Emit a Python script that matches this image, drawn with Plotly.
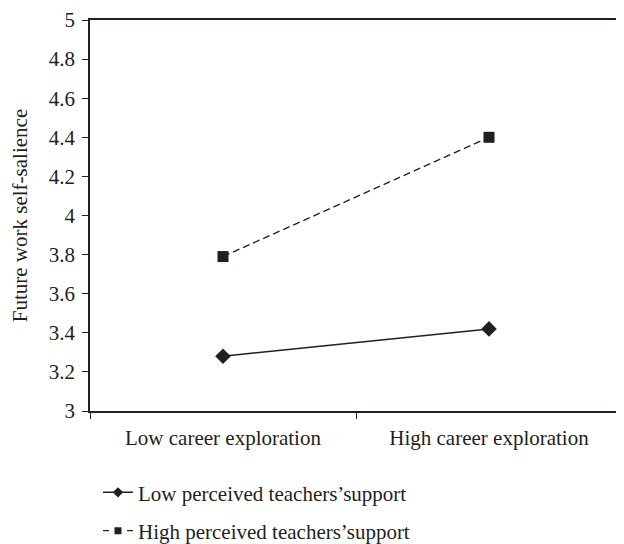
import plotly.graph_objects as go

categories = ["Low career exploration", "High career exploration"]
low_support = [3.28, 3.42]
high_support = [3.79, 4.40]
series_names = ["Low perceived teachers’support", "High perceived teachers’support"]
y_ticks = [3, 3.2, 3.4, 3.6, 3.8, 4, 4.2, 4.4, 4.6, 4.8, 5]
y_tick_text = ["3", "3.2", "3.4", "3.6", "3.8", "4", "4.2", "4.4", "4.6", "4.8", "5"]

ink = "#231f20"
font = "Liberation Serif"
fs = 21

fig = go.Figure()
fig.add_trace(go.Scatter(
    x=categories, y=low_support, name=series_names[0], mode="lines+markers",
    line=dict(color=ink, width=1.5),
    marker=dict(symbol="diamond", size=12, color=ink),
    showlegend=False,
))
fig.add_trace(go.Scatter(
    x=categories, y=high_support, name=series_names[1], mode="lines+markers",
    line=dict(color=ink, width=1.3, dash="7px,4px"),
    marker=dict(symbol="square", size=11, color=ink),
    showlegend=False,
))
# legend entries with smaller symbols, as in the reference
fig.add_trace(go.Scatter(
    x=[None], y=[None], name=series_names[0], mode="lines+markers",
    line=dict(color=ink, width=1.5),
    marker=dict(symbol="diamond", size=8, color=ink),
    legendgroup="a",
))
fig.add_trace(go.Scatter(
    x=[None], y=[None], name=series_names[1], mode="lines+markers",
    line=dict(color=ink, width=1.3, dash="6px,18px"),
    marker=dict(symbol="square", size=7, color=ink),
    legendgroup="b",
))

fig.update_layout(
    width=616, height=536,
    margin=dict(l=82, r=2, t=12, b=133),
    paper_bgcolor="white", plot_bgcolor="white",
    font=dict(family=font, size=fs, color=ink),
    showlegend=True,
    legend=dict(x=0.015, y=0.134, xref="paper", yref="container",
                xanchor="left", yanchor="top",
                traceorder="grouped", tracegroupgap=8,
                font=dict(family=font, size=fs, color=ink),
                bgcolor="rgba(0,0,0,0)"),
    xaxis=dict(
        range=[-0.5, 1.5], showgrid=False, zeroline=False, automargin=False,
        showline=True, linecolor=ink, linewidth=1.5, mirror=True,
        ticks="outside", ticklen=6, tickcolor=ink, tickson="boundaries",
        ticklabelstandoff=7, ticklabeloverflow="allow",
        tickfont=dict(family=font, size=fs, color=ink),
    ),
    yaxis=dict(
        range=[3, 5], tickvals=y_ticks, ticktext=y_tick_text, automargin=False,
        showgrid=False, zeroline=False,
        showline=True, linecolor=ink, linewidth=1.5, mirror=True,
        ticks="outside", ticklen=6, tickcolor=ink, ticklabelstandoff=3,
        ticklabeloverflow="allow",
        tickfont=dict(family=font, size=fs, color=ink),
        title=dict(text="Future work self-salience", standoff=29,
                   font=dict(family=font, size=fs, color=ink)),
    ),
)

fig.write_html("out.html")
